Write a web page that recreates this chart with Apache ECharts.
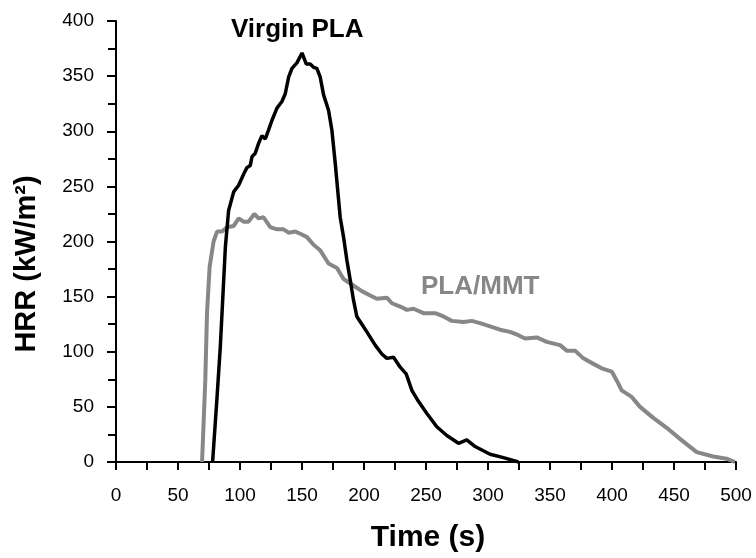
<!DOCTYPE html>
<html>
<head>
<meta charset="utf-8">
<script src="https://cdn.jsdelivr.net/npm/echarts@6/dist/echarts.min.js"></script>
<style>
  html, body { margin: 0; padding: 0; background: #fff; }
  #chart { width: 756px; height: 558px; }
</style>
</head>
<body>
<div id="chart"></div>
<script>
// Virgin PLA heat release curve (time s, HRR kW/m2)
const virginTime = [77.9, 81.5, 84.1, 88.2, 90.8, 94.9, 98.9, 102.9, 105.6, 108.3, 109.7, 112.3, 115, 117.7, 120.4, 123, 125.8, 129.8, 133.8, 136.5, 139.2, 141.9, 145.9, 150, 153.4, 156.6, 159.3, 162, 164.7, 167.4, 171.4, 174.1, 176.8, 180.8, 183.5, 186.2, 188.9, 191.5, 194.2, 198.3, 202.3, 209, 214.4, 218.4, 223.8, 229.2, 234, 238.6, 243.9, 250.7, 258.7, 266.8, 276.2, 282.9, 289.6, 301.7, 312.4, 324.5];
const virginHRR = [0, 59, 104, 195, 228, 245, 251, 261, 267, 269, 277, 280, 289, 296, 293, 301, 310, 321, 327, 334, 349, 357, 362, 371, 361, 361, 358, 357, 349, 333, 319, 301, 271, 222, 204, 183, 165, 147, 132, 125, 118, 106, 98, 94, 95, 86, 80, 65, 55, 44, 32, 24, 17, 20, 14, 7, 4, 0];

// PLA/MMT heat release curve
const mmtTime = [69.4, 72, 73.4, 75.5, 78.7, 81.5, 85.5, 89.5, 94.8, 98.9, 102.9, 106.9, 111.5, 115, 119, 124.4, 129.8, 135.1, 139.2, 144.6, 148.6, 154, 159.3, 164.7, 171.4, 178.2, 183.5, 190.2, 198.3, 205, 210.4, 218.4, 222.5, 229.2, 234.6, 239.9, 248, 257.4, 264.1, 270.8, 280.2, 286.9, 293.6, 301.7, 309.7, 317.8, 324.5, 329.9, 339.3, 347.4, 358.1, 363.5, 370.2, 376.9, 385, 391.7, 399.8, 403.8, 407.8, 415.9, 422.6, 433.3, 444.1, 454.8, 468.3, 481.6, 492.4, 499.1];
const mmtHRR = [0, 74, 135, 177, 200, 209, 209, 213, 214, 221, 218, 218, 225, 221, 222, 213, 211, 211, 208, 209, 207, 204, 197, 192, 180, 176, 166, 161, 155, 151, 148, 149, 144, 141, 138, 139, 135, 135, 132, 128, 127, 128, 126, 123, 120, 118, 115, 112, 113, 109, 106, 101, 101, 94, 89, 85, 82, 74, 65, 59, 50, 40, 31, 21, 9, 5, 3, 0];

const xTicks = { min: 0, max: 500, step: 50 };
const yTicks = { min: 0, max: 400, step: 50 };

const font = "'Liberation Sans', Arial, sans-serif";
const zip = (xs, ys) => xs.map((x, i) => [x, ys[i]]);

const chart = echarts.init(document.getElementById('chart'));

chart.setOption({
  backgroundColor: '#ffffff',
  animation: false,
  grid: { left: 116, right: 20, top: 21, bottom: 96 },
  xAxis: {
    type: 'value',
    min: xTicks.min,
    max: xTicks.max,
    interval: xTicks.step,
    axisLine: { lineStyle: { color: '#000', width: 2 } },
    axisTick: { length: 8, lineStyle: { color: '#000', width: 2 } },
    minorTick: { show: true, splitNumber: 2, length: 8, lineStyle: { color: '#000', width: 2 } },
    axisLabel: { color: '#000', fontSize: 19, fontFamily: font, margin: 24 },
    splitLine: { show: false }
  },
  yAxis: {
    type: 'value',
    min: yTicks.min,
    max: yTicks.max,
    interval: yTicks.step,
    axisLine: { show: true, lineStyle: { color: '#000', width: 2 } },
    axisTick: { show: true, length: 9, lineStyle: { color: '#000', width: 2 } },
    minorTick: { show: true, splitNumber: 2, length: 8, lineStyle: { color: '#000', width: 2 } },
    axisLabel: { color: '#000', fontSize: 19, fontFamily: font, margin: 22 },
    splitLine: { show: false }
  },
  series: [
    {
      name: 'PLA/MMT',
      type: 'line',
      data: zip(mmtTime, mmtHRR),
      showSymbol: false,
      lineStyle: { color: '#878787', width: 4 },
      z: 2
    },
    {
      name: 'Virgin PLA',
      type: 'line',
      data: zip(virginTime, virginHRR),
      showSymbol: false,
      lineStyle: { color: '#000', width: 3.5 },
      z: 3
    }
  ],
  graphic: [
    {
      type: 'text', left: 231, top: 17,
      style: { text: 'Virgin PLA', fill: '#000', font: 'bold 26px ' + font }
    },
    {
      type: 'text', left: 421, top: 274,
      style: { text: 'PLA/MMT', fill: '#878787', font: 'bold 26px ' + font }
    },
    {
      type: 'text', x: 428, y: 538,
      style: { text: 'Time (s)', fill: '#000', font: 'bold 30px ' + font, align: 'center', verticalAlign: 'middle' }
    },
    {
      type: 'text', x: 27, y: 264, rotation: Math.PI / 2,
      style: { text: 'HRR (kW/m²)', fill: '#000', font: 'bold 29px ' + font, align: 'center', verticalAlign: 'middle' }
    }
  ]
});
</script>
</body>
</html>
